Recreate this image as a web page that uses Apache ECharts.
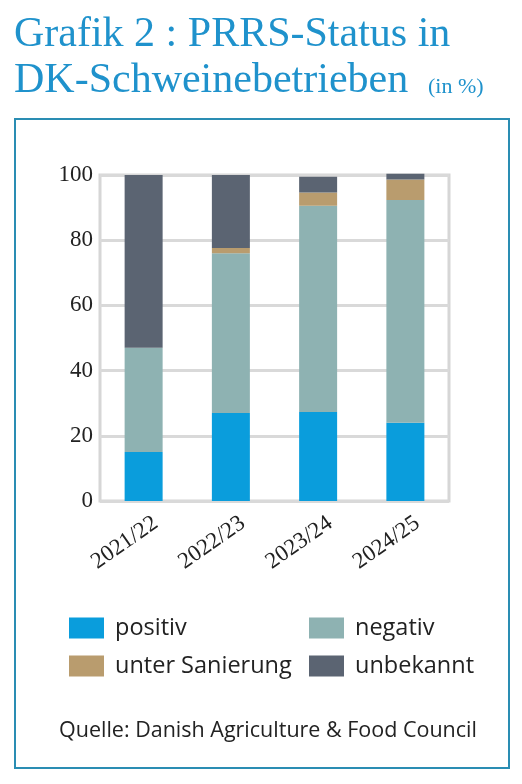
<!DOCTYPE html>
<html><head><meta charset="utf-8">
<script src="https://cdn.jsdelivr.net/npm/echarts@6/dist/echarts.min.js"></script>
<style>html,body{margin:0;padding:0;background:#fff}#c{width:522px;height:784px}</style>
</head><body><div id="c"></div>
<script>
const categories = ['2021/22','2022/23','2023/24','2024/25'];
const positiv = [15, 27, 27.3, 24];
const negativ = [32, 49, 63.3, 68.3];
const unterSanierung = [0, 1.6, 4, 6.3];
const unbekannt = [53, 22.4, 4.9, 1.8];
const yTicks = [0, 20, 40, 60, 80, 100];
const seriesNames = ['positiv','negativ','unter Sanierung','unbekannt'];
const colors = ['#0a9ddc','#8eb2b2','#b99c6e','#5b6472'];

const chart = echarts.init(document.getElementById('c'), null, {renderer:'canvas'});
const serif = '"Liberation Serif", serif';
const sans = '"Open Sans", sans-serif';
const mk = (name, data, i) => ({
  name, type:'bar', stack:'s', data, barWidth:38, clip:false,
  xAxisIndex:0, yAxisIndex:0,
  itemStyle:{color:colors[i]}
});
const legendPos = [[69,616],[309,616],[69,654],[309,654]];
chart.setOption({
  animation:false,
  graphic:[
    {type:'rect', shape:{x:15,y:119,width:494,height:649}, style:{fill:'none', stroke:'#2a8db3', lineWidth:2}},
    {type:'text', x:14, y:56, style:{text:'Grafik 2 : PRRS-Status in', font:'42px '+serif, fill:'#1f92cc', verticalAlign:'bottom'}},
    {type:'text', x:14, y:102, style:{text:'DK-Schweinebetrieben', font:'42px '+serif, fill:'#1f92cc', verticalAlign:'bottom'}},
    {type:'text', x:428, y:98, style:{text:'(in %)', font:'22px '+serif, fill:'#1f92cc', verticalAlign:'bottom'}},
    {type:'text', x:59, y:731, style:{text:'Quelle: Danish Agriculture & Food Council', font:'21.5px '+sans, fill:'#222', verticalAlign:'middle'}}
  ],
  legend: seriesNames.map((n,i)=>({
    data:[n], left:legendPos[i][0], top:legendPos[i][1], itemWidth:35, itemHeight:21, itemGap:12,
    icon:'rect', textStyle:{fontFamily:sans, fontSize:23.5, color:'#222', padding:[0,0,0,6]}, padding:0, selectedMode:false
  })),
  grid:[
    {left:100, right:73, top:175, bottom:283, show:true, borderColor:'#d6d6d6', borderWidth:3},
    {left:112, right:61, top:175, bottom:283, show:false}
  ],
  xAxis:[
    {type:'category', gridIndex:0, data:categories, axisLine:{show:false}, axisTick:{show:false}, axisLabel:{show:false}},
    {type:'category', gridIndex:1, data:categories, axisLine:{show:false}, axisTick:{show:false}, splitLine:{show:false},
      axisLabel:{rotate:35, margin:20, fontFamily:serif, fontSize:23, color:'#222'}}
  ],
  yAxis:[
    {type:'value', gridIndex:0, min:yTicks[0], max:yTicks[yTicks.length-1], interval:20,
      axisLine:{show:false}, axisTick:{show:false},
      splitLine:{lineStyle:{color:'#d9d9d9', width:3}},
      axisLabel:{margin:7, fontFamily:serif, fontSize:23, color:'#222'}},
    {type:'value', gridIndex:1, min:0, max:100, show:false, splitLine:{show:false}}
  ],
  series:[mk(seriesNames[0],positiv,0), mk(seriesNames[1],negativ,1), mk(seriesNames[2],unterSanierung,2), mk(seriesNames[3],unbekannt,3)]
});
</script></body></html>
